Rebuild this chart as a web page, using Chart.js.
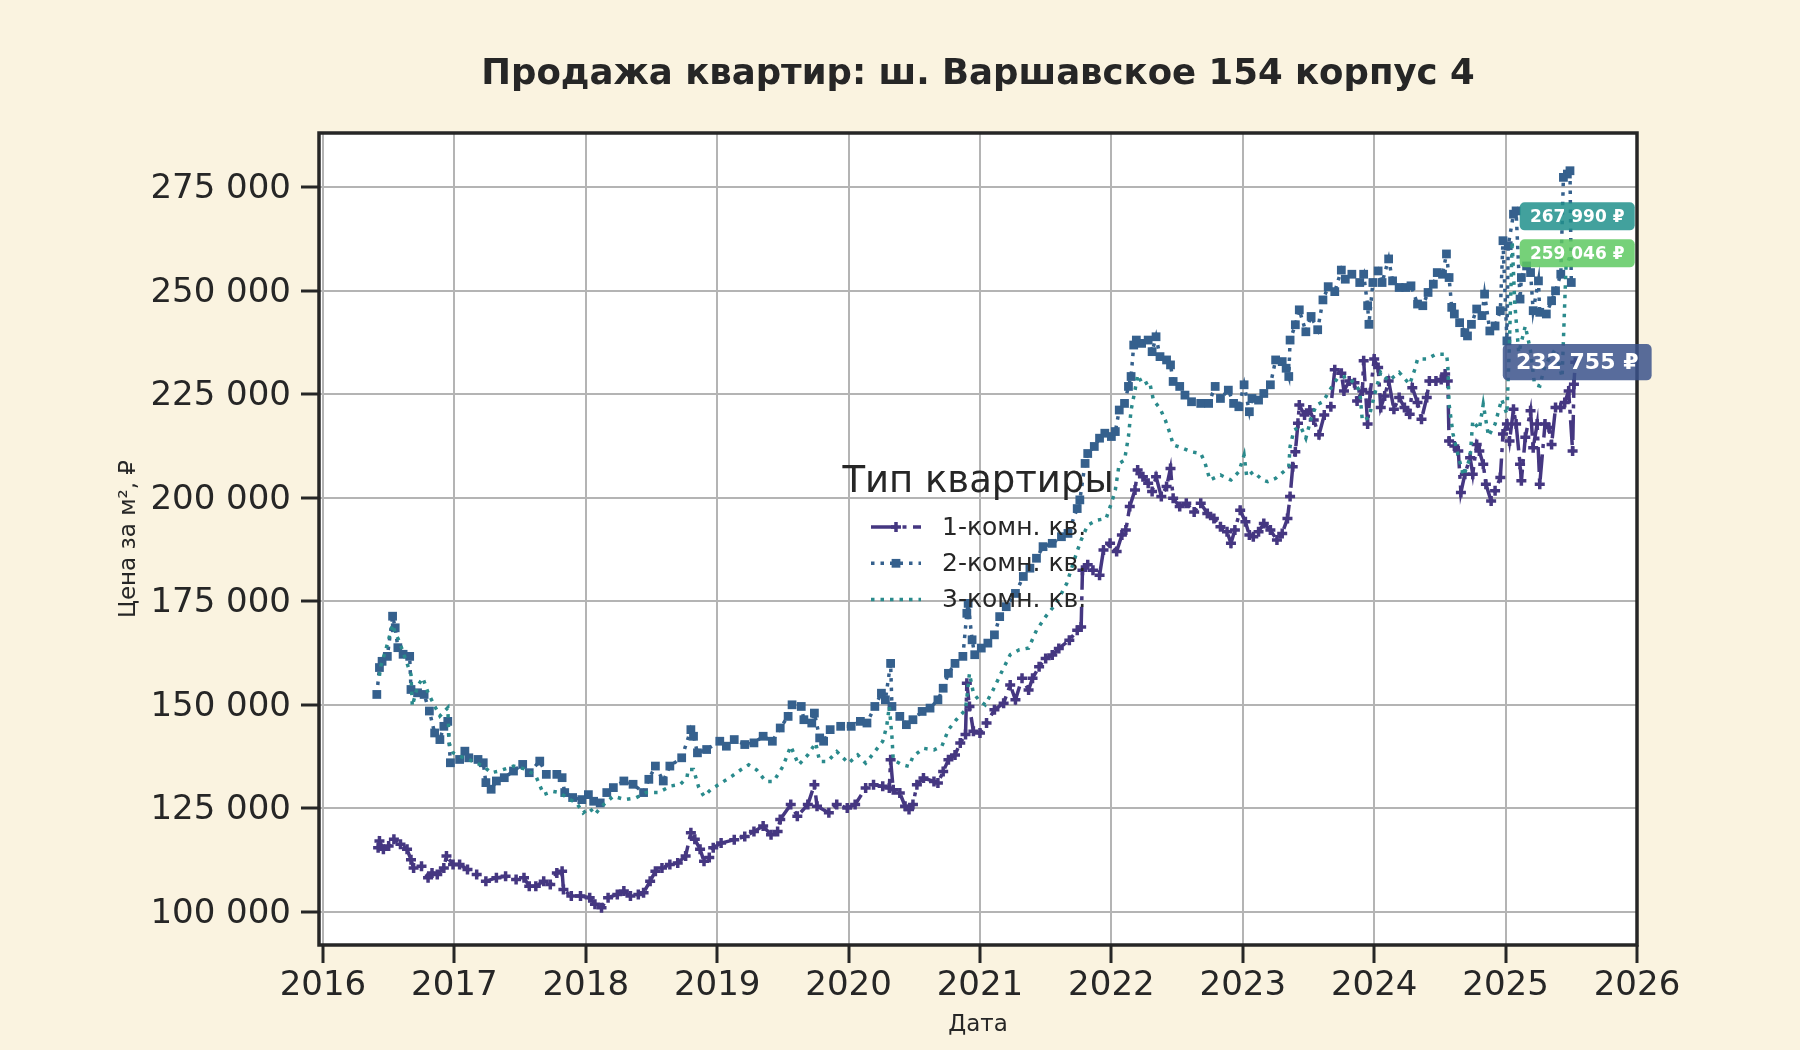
<!DOCTYPE html>
<html lang="ru">
<head>
<meta charset="utf-8">
<title>Продажа квартир: ш. Варшавское 154 корпус 4</title>
<script src="https://cdn.jsdelivr.net/npm/chart.js@4.4.1/dist/chart.umd.min.js"></script>
<style>
    html, body { margin: 0; padding: 0; background: #faf3e0; }
    #wrap { width: 1800px; height: 1050px; }
</style>
</head>
<body>
<div id="wrap"><canvas id="priceChart" width="1800" height="1050"></canvas></div>
<script>
// Data (decimal years, price per m2)
const dates1 = [
    2016.42, 2016.43, 2016.46, 2016.50, 2016.54, 2016.59, 2016.64, 2016.67, 2016.69, 2016.75,
    2016.80, 2016.83, 2016.87, 2016.92, 2016.94, 2016.99, 2017.04, 2017.10, 2017.17, 2017.24,
    2017.32, 2017.39, 2017.47, 2017.53, 2017.57, 2017.62, 2017.68, 2017.73, 2017.78, 2017.82,
    2017.83, 2017.89, 2017.96, 2018.03, 2018.07, 2018.12, 2018.17, 2018.24, 2018.29, 2018.34,
    2018.40, 2018.44, 2018.49, 2018.53, 2018.58, 2018.64, 2018.70, 2018.76, 2018.80, 2018.83,
    2018.87, 2018.90, 2018.94, 2018.97, 2019.03, 2019.13, 2019.21, 2019.28, 2019.35, 2019.41,
    2019.46, 2019.48, 2019.56, 2019.61, 2019.69, 2019.74, 2019.76, 2019.85, 2019.91, 2019.99,
    2020.05, 2020.13, 2020.19, 2020.26, 2020.31, 2020.32, 2020.34, 2020.39, 2020.43, 2020.46,
    2020.49, 2020.52, 2020.57, 2020.65, 2020.68, 2020.72, 2020.76, 2020.81, 2020.85, 2020.89,
    2020.90, 2020.92, 2020.95, 2021.00, 2021.05, 2021.11, 2021.18, 2021.23, 2021.27, 2021.32,
    2021.37, 2021.40, 2021.45, 2021.50, 2021.55, 2021.60, 2021.68, 2021.74, 2021.77, 2021.78,
    2021.82, 2021.86, 2021.91, 2021.94, 2021.99, 2022.04, 2022.08, 2022.11, 2022.14, 2022.18,
    2022.20, 2022.24, 2022.28, 2022.31, 2022.34, 2022.38, 2022.42, 2022.45, 2022.47, 2022.52,
    2022.57, 2022.63, 2022.68, 2022.73, 2022.78, 2022.83, 2022.88, 2022.91, 2022.94, 2022.98,
    2023.02, 2023.05, 2023.08, 2023.12, 2023.16, 2023.21, 2023.26, 2023.30, 2023.34, 2023.36,
    2023.38, 2023.40, 2023.42, 2023.43, 2023.47, 2023.51, 2023.54, 2023.58, 2023.62, 2023.67,
    2023.70, 2023.75, 2023.77, 2023.81, 2023.85, 2023.87, 2023.91, 2023.92, 2023.95, 2023.97,
    2024.00, 2024.03, 2024.05, 2024.08, 2024.11, 2024.15, 2024.19, 2024.23, 2024.27, 2024.29,
    2024.33, 2024.36, 2024.40, 2024.42, 2024.47, 2024.51, 2024.54, 2024.56, 2024.57, 2024.61,
    2024.64, 2024.66, 2024.69, 2024.73, 2024.75, 2024.78, 2024.80, 2024.83, 2024.85, 2024.89,
    2024.92, 2024.96, 2024.98, 2025.01, 2025.03, 2025.06, 2025.08, 2025.11, 2025.12, 2025.15,
    2025.19, 2025.21, 2025.24, 2025.26, 2025.30, 2025.33, 2025.35, 2025.38, 2025.42, 2025.45,
    2025.48, 2025.51, 2025.52, 2025.53
];
const prices1 = [
    115500, 117100, 115100, 115900, 117500, 116300, 115100, 112600, 110600, 111000,
    108200, 109400, 109000, 110600, 113500, 111400, 111400, 110200, 109000, 107400,
    108200, 108600, 107800, 108200, 106200, 106200, 107400, 106600, 109400, 109800,
    105400, 103800, 103800, 103400, 101800, 101000, 103400, 104200, 105000, 103800,
    104200, 104600, 107400, 109800, 110600, 111400, 111800, 113500, 119100, 117500,
    115100, 112200, 113100, 115500, 116600, 117400, 118200, 119400, 120700, 118600,
    119400, 122300, 125900, 123100, 125900, 130700, 125500, 123900, 125900, 125100,
    125900, 129900, 130700, 130300, 129900, 136700, 129500, 128700, 125500, 124700,
    125900, 130700, 132300, 131500, 131100, 133900, 136700, 137900, 140800, 142800,
    155200, 149600, 143600, 143200, 145600, 148800, 150400, 154800, 151200, 156400,
    153600, 156400, 159200, 161200, 162000, 163600, 165600, 168000, 168800, 182500,
    183800, 182500, 181300, 187400, 189000, 187000, 191000, 192200, 197900, 201900,
    206700, 205100, 203500, 201500, 205100, 200300, 202700, 207100, 199900, 197900,
    198700, 196600, 198700, 196200, 195000, 193000, 191800, 189000, 192200, 197000,
    194200, 191000, 190600, 191800, 193800, 192200, 189800, 191400, 195000, 200300,
    207500, 211100, 218000, 222400, 220000, 221200, 218800, 215200, 220000, 222000,
    230900, 230100, 225800, 228200, 227800, 223400, 225800, 233100, 217800, 225400,
    233500, 231500, 221800, 224600, 228200, 221400, 224200, 221800, 220200, 226600,
    223000, 219000, 224200, 228200, 228200, 228600, 229900, 228200, 213700, 212500,
    211300, 201300, 205700, 209700, 205700, 212900, 211300, 208100, 203300, 199200,
    201700, 204900, 215400, 217800, 213700, 221400, 217800, 208100, 204100, 214600,
    221000, 212100, 217800, 203300, 217800, 217000, 212900, 221800, 221800, 223000,
    225800, 211300, 227400, 232755
];

const dates2 = [
    2016.41, 2016.43, 2016.45, 2016.49, 2016.53, 2016.55, 2016.57, 2016.61, 2016.66, 2016.67,
    2016.72, 2016.77, 2016.81, 2016.85, 2016.89, 2016.92, 2016.95, 2016.97, 2017.04, 2017.08,
    2017.11, 2017.18, 2017.22, 2017.24, 2017.28, 2017.32, 2017.38, 2017.45, 2017.52, 2017.57,
    2017.65, 2017.70, 2017.78, 2017.82, 2017.84, 2017.90, 2017.97, 2018.02, 2018.06, 2018.11,
    2018.16, 2018.21, 2018.29, 2018.36, 2018.44, 2018.48, 2018.53, 2018.59, 2018.64, 2018.73,
    2018.80, 2018.82, 2018.85, 2018.92, 2019.02, 2019.07, 2019.13, 2019.21, 2019.28, 2019.35,
    2019.42, 2019.48, 2019.54, 2019.57, 2019.64, 2019.66, 2019.72, 2019.74, 2019.78, 2019.81,
    2019.86, 2019.94, 2020.02, 2020.09, 2020.14, 2020.20, 2020.25, 2020.28, 2020.32, 2020.33,
    2020.39, 2020.44, 2020.49, 2020.56, 2020.62, 2020.68, 2020.72, 2020.76, 2020.81, 2020.87,
    2020.90, 2020.91, 2020.94, 2020.96, 2021.01, 2021.06, 2021.11, 2021.15, 2021.20, 2021.27,
    2021.33, 2021.38, 2021.43, 2021.48, 2021.55, 2021.62, 2021.67, 2021.74, 2021.76, 2021.80,
    2021.82, 2021.87, 2021.91, 2021.95, 2022.00, 2022.03, 2022.06, 2022.10, 2022.13, 2022.15,
    2022.17, 2022.19, 2022.23, 2022.28, 2022.31, 2022.34, 2022.37, 2022.42, 2022.45, 2022.47,
    2022.52, 2022.56, 2022.61, 2022.68, 2022.74, 2022.79, 2022.83, 2022.89, 2022.93, 2022.97,
    2023.01, 2023.05, 2023.07, 2023.12, 2023.16, 2023.21, 2023.25, 2023.30, 2023.33, 2023.35,
    2023.36, 2023.40, 2023.43, 2023.48, 2023.52, 2023.57, 2023.61, 2023.65, 2023.70, 2023.75,
    2023.78, 2023.83, 2023.89, 2023.92, 2023.95, 2023.96, 2023.99, 2024.03, 2024.06, 2024.11,
    2024.14, 2024.19, 2024.24, 2024.28, 2024.33, 2024.37, 2024.41, 2024.45, 2024.48, 2024.52,
    2024.55, 2024.57, 2024.59, 2024.61, 2024.65, 2024.69, 2024.71, 2024.74, 2024.78, 2024.82,
    2024.84, 2024.88, 2024.92, 2024.96, 2024.98, 2025.01, 2025.02, 2025.06, 2025.08, 2025.11,
    2025.12, 2025.16, 2025.19, 2025.21, 2025.25, 2025.26, 2025.31, 2025.35, 2025.38, 2025.42,
    2025.44, 2025.47, 2025.49, 2025.50
];
const prices2 = [
    152500, 159000, 160500, 161700, 171400, 168600, 163800, 162200, 161700, 153700,
    152900, 152500, 148500, 143200, 141600, 144800, 146000, 136000, 136800, 138800,
    137200, 136800, 136000, 131200, 129600, 131600, 132400, 134000, 135600, 133600,
    136400, 133200, 133200, 132400, 128800, 127600, 127100, 128300, 126700, 126300,
    128800, 130000, 131600, 130800, 128800, 132000, 135200, 131600, 135200, 137200,
    144000, 142400, 138400, 139200, 141200, 140000, 141600, 140400, 140800, 142400,
    141200, 144400, 147200, 150000, 149600, 146400, 145600, 148000, 142000, 141200,
    144000, 144800, 144800, 146000, 145600, 149600, 152800, 151200, 160000, 149600,
    147200, 145200, 146400, 148400, 149200, 151200, 154000, 157600, 160000, 161700,
    172100, 174500, 165700, 162100, 163700, 164900, 166900, 171300, 173700, 176900,
    181000, 183000, 185400, 188200, 189000, 190600, 191400, 197400, 199500, 208300,
    210700, 212400, 214400, 215600, 214800, 216000, 221200, 222800, 226900, 229300,
    236900, 238100, 237300, 238100, 235300, 238900, 234100, 233300, 232100, 228100,
    226900, 224800, 223200, 222800, 222800, 226900, 224000, 226000, 222800, 222000,
    227300, 220800, 224000, 223600, 225200, 227300, 233300, 232900, 231300, 229300,
    238100, 241800, 245400, 240100, 243800, 240600, 247800, 251000, 249800, 255000,
    252800, 254000, 252000, 254000, 246400, 241900, 252000, 254800, 252000, 257700,
    252400, 250800, 250800, 251200, 246800, 246400, 249600, 251600, 254400, 254000,
    258900, 253200, 246000, 244400, 242300, 239900, 239100, 241900, 245600, 244000,
    249200, 240300, 241500, 245200, 262100, 237900, 260900, 268500, 269300, 248000,
    253200, 256000, 254400, 245200, 252400, 244800, 244400, 247600, 250000, 254000,
    277400, 278200, 279000, 252000
];

const dates3 = [
    2016.43, 2016.44, 2016.49, 2016.53, 2016.55, 2016.58, 2016.67, 2016.68, 2016.72, 2016.76,
    2016.80, 2016.85, 2016.89, 2016.95, 2016.96, 2016.99, 2017.04, 2017.11, 2017.22, 2017.28,
    2017.34, 2017.45, 2017.55, 2017.62, 2017.68, 2017.75, 2017.80, 2017.88, 2017.93, 2017.98,
    2018.03, 2018.07, 2018.12, 2018.21, 2018.30, 2018.38, 2018.46, 2018.55, 2018.65, 2018.72,
    2018.77, 2018.78, 2018.82, 2018.86, 2018.90, 2018.95, 2019.03, 2019.11, 2019.18, 2019.24,
    2019.30, 2019.37, 2019.43, 2019.50, 2019.56, 2019.62, 2019.69, 2019.75, 2019.78, 2019.84,
    2019.91, 2020.00, 2020.07, 2020.13, 2020.19, 2020.26, 2020.29, 2020.31, 2020.33, 2020.34,
    2020.41, 2020.46, 2020.49, 2020.57, 2020.65, 2020.71, 2020.76, 2020.82, 2020.89, 2020.92,
    2020.95, 2020.99, 2021.04, 2021.10, 2021.16, 2021.23, 2021.30, 2021.37, 2021.43, 2021.50,
    2021.58, 2021.66, 2021.73, 2021.77, 2021.82, 2021.89, 2021.96, 2022.00, 2022.03, 2022.06,
    2022.10, 2022.13, 2022.15, 2022.18, 2022.20, 2022.24, 2022.29, 2022.32, 2022.37, 2022.41,
    2022.45, 2022.47, 2022.54, 2022.61, 2022.68, 2022.71, 2022.75, 2022.83, 2022.91, 2022.97,
    2023.01, 2023.03, 2023.08, 2023.15, 2023.19, 2023.25, 2023.31, 2023.35, 2023.36, 2023.39,
    2023.44, 2023.48, 2023.52, 2023.56, 2023.61, 2023.67, 2023.72, 2023.79, 2023.85, 2023.89,
    2023.91, 2023.96, 2024.01, 2024.05, 2024.11, 2024.19, 2024.27, 2024.31, 2024.33, 2024.40,
    2024.47, 2024.55, 2024.56, 2024.57, 2024.60, 2024.64, 2024.68, 2024.73, 2024.75, 2024.80,
    2024.83, 2024.87, 2024.92, 2024.97, 2025.01, 2025.03, 2025.05, 2025.07, 2025.10, 2025.15,
    2025.19, 2025.22, 2025.26, 2025.30, 2025.38, 2025.43, 2025.46, 2025.50
];
const prices3 = [
    157000, 159300, 164600, 169400, 167400, 165400, 157300, 149700, 154500, 156500,
    152900, 149700, 147300, 149300, 140800, 138400, 137600, 136800, 135200, 133600,
    134000, 135200, 134400, 132800, 128300, 129100, 128800, 127100, 126300, 123900,
    125100, 123500, 125500, 127900, 127100, 127500, 128800, 128800, 130400, 130800,
    132400, 134400, 134400, 130000, 127900, 129500, 131100, 132700, 134300, 135500,
    134300, 131500, 131500, 135100, 140000, 135500, 137900, 140800, 136300, 136300,
    138700, 135900, 137900, 135900, 138300, 141200, 144800, 149600, 142400, 136700,
    135500, 135100, 137500, 139500, 139100, 140000, 144000, 146400, 148800, 157600,
    152800, 151200, 150000, 153600, 157600, 162100, 163300, 163700, 168000, 171300,
    174500, 179300, 186200, 189800, 193400, 194600, 195000, 198700, 201900, 208300,
    209100, 214800, 221200, 226000, 229700, 227300, 228100, 223600, 221600, 218800,
    215200, 212800, 212000, 211100, 210700, 208700, 204300, 205500, 204300, 206300,
    210300, 205100, 206300, 204300, 203900, 204700, 206300, 207500, 212400, 216400,
    217200, 214400, 219200, 222400, 223200, 226400, 228900, 229300, 227700, 225800,
    218600, 219400, 225800, 230300, 228200, 230300, 227400, 231100, 233500, 233500,
    234700, 234700, 232300, 222600, 215400, 210100, 205300, 209700, 218600, 216600,
    222600, 214900, 217800, 223800, 220200, 238000, 262000, 247000, 235000, 241500,
    235500, 227400, 227000, 232000, 236000, 229100, 256000, 259046
];

const seriesNames = ['1-комн. кв.', '2-комн. кв.', '3-комн. кв.'];
const yearTicks = [2016, 2017, 2018, 2019, 2020, 2021, 2022, 2023, 2024, 2025, 2026];
const priceTicks = [100000, 125000, 150000, 175000, 200000, 225000, 250000, 275000];

// End-of-series price badges
const badgeDates = [2025.545, 2025.545, 2025.545];
const badgeValues = [267990, 259046, 232755];
const badgeColors = ['rgba(33, 145, 140, 0.85)', 'rgba(94, 201, 98, 0.85)', 'rgba(59, 82, 139, 0.85)'];
const badgeFontSizes = [17, 17, 22];

const textColor = '#262626';
const fontFamily = '"DejaVu Sans", "Noto Sans", sans-serif';

function formatPrice(value) {
    return String(Math.round(value)).replace(/\B(?=(\d{3})+(?!\d))/g, ' ');
}

function toPoints(dates, prices) {
    return dates.map(function(d, i) { return { x: d, y: prices[i] }; });
}

Chart.defaults.font.family = fontFamily;
Chart.defaults.color = textColor;

// Cream page, white plot area
const backgroundPlugin = {
    id: 'backgroundPlugin',
    beforeDraw(chart) {
        const { ctx, chartArea } = chart;
        ctx.save();
        ctx.fillStyle = '#faf3e0';
        ctx.fillRect(0, 0, chart.width, chart.height);
        ctx.fillStyle = '#ffffff';
        ctx.fillRect(chartArea.left, chartArea.top, chartArea.right - chartArea.left, chartArea.bottom - chartArea.top);
        ctx.restore();
    }
};

// Frame around the axes and the price badges
const framePlugin = {
    id: 'framePlugin',
    afterDatasetsDraw(chart) {
        const { ctx, chartArea } = chart;
        const xScale = chart.scales.x;
        const yScale = chart.scales.y;
        ctx.save();
        ctx.lineWidth = 3.5;
        ctx.strokeStyle = textColor;
        ctx.strokeRect(chartArea.left, chartArea.top, chartArea.right - chartArea.left, chartArea.bottom - chartArea.top);

        badgeValues.forEach(function(value, i) {
            const cx = xScale.getPixelForValue(badgeDates[i]);
            const cy = yScale.getPixelForValue(value);
            const size = badgeFontSizes[i];
            const text = formatPrice(value) + ' ₽';
            ctx.font = 'bold ' + size + 'px ' + fontFamily;
            const w = ctx.measureText(text).width + size * 1.2;
            const h = size * 1.65;
            ctx.fillStyle = badgeColors[i];
            ctx.beginPath();
            ctx.roundRect(cx - w / 2, cy - h / 2, w, h, 5);
            ctx.fill();
            ctx.fillStyle = '#ffffff';
            ctx.textAlign = 'center';
            ctx.textBaseline = 'middle';
            ctx.fillText(text, cx, cy + 1);
        });
        ctx.restore();
    }
};

// Legend without frame, centred in the plot
const legendPlugin = {
    id: 'legendPlugin',
    afterDraw(chart) {
        const { ctx, chartArea } = chart;
        const cx = (chartArea.left + chartArea.right) / 2;
        const cy = (chartArea.top + chartArea.bottom) / 2;
        ctx.save();
        ctx.fillStyle = textColor;
        ctx.textBaseline = 'middle';
        ctx.textAlign = 'center';
        ctx.font = '37px ' + fontFamily;
        ctx.fillText('Тип квартиры', cx, cy - 57);

        chart.data.datasets.forEach(function(ds, i) {
            const rowY = cy - 12 + i * 36.3;
            const x0 = cx - 107;
            const x1 = cx - 57;
            ctx.strokeStyle = ds.borderColor;
            ctx.lineWidth = ds.borderWidth;
            ctx.setLineDash(ds.borderDash || []);
            ctx.beginPath();
            ctx.moveTo(x0, rowY);
            ctx.lineTo(x1, rowY);
            ctx.stroke();
            ctx.setLineDash([]);
            if (ds.pointRadius > 0) {
                ctx.fillStyle = ds.borderColor;
                ctx.strokeStyle = ds.borderColor;
                ctx.lineWidth = ds.pointBorderWidth;
                Chart.helpers.drawPoint(ctx, {
                    pointStyle: ds.pointStyle,
                    radius: ds.pointRadius,
                    borderWidth: ds.pointBorderWidth,
                    rotation: 0
                }, (x0 + x1) / 2, rowY);
            }
            ctx.fillStyle = textColor;
            ctx.textAlign = 'left';
            ctx.font = '25px ' + fontFamily;
            ctx.fillText(seriesNames[i], cx - 36, rowY + 1);
        });
        ctx.restore();
    }
};

const ctx = document.getElementById('priceChart').getContext('2d');
const priceChart = new Chart(ctx, {
    type: 'line',
    data: {
        datasets: [
            {
                label: seriesNames[0],
                data: toPoints(dates1, prices1),
                borderColor: '#453781',
                backgroundColor: '#453781',
                borderWidth: 3.5,
                borderDash: [25, 6.5, 4, 6.5],
                pointStyle: 'cross',
                pointRadius: 5,
                pointBorderWidth: 3.5,
                pointBorderColor: '#453781',
                order: 2
            },
            {
                label: seriesNames[1],
                data: toPoints(dates2, prices2),
                borderColor: '#35608d',
                backgroundColor: '#35608d',
                borderWidth: 3.5,
                borderDash: [3.5, 6],
                pointStyle: 'rect',
                pointRadius: 6.2,
                pointBorderWidth: 0,
                pointBackgroundColor: '#35608d',
                order: 1
            },
            {
                label: seriesNames[2],
                data: toPoints(dates3, prices3),
                borderColor: '#2a8a8c',
                backgroundColor: '#2a8a8c',
                borderWidth: 3.5,
                borderDash: [3.5, 6],
                pointRadius: 0,
                order: 0
            }
        ]
    },
    options: {
        responsive: false,
        animation: false,
        devicePixelRatio: 1,
        layout: {
            padding: { left: 0, right: 163, top: 0, bottom: 0 }
        },
        elements: {
            line: { tension: 0, fill: false }
        },
        plugins: {
            legend: { display: false },
            tooltip: { enabled: false },
            title: {
                display: true,
                fullSize: false,
                text: 'Продажа квартир: ш. Варшавское 154 корпус 4',
                color: textColor,
                font: { size: 35.5, weight: 'bold' },
                padding: { top: 53.3, bottom: 37.1 }
            }
        },
        scales: {
            x: {
                type: 'linear',
                min: 2015.97,
                max: 2026.0,
                afterBuildTicks: function(scale) {
                    scale.ticks = yearTicks.map(function(v) { return { value: v }; });
                },
                afterFit: function(scale) {
                    scale.height = 105;
                },
                ticks: {
                    autoSkip: false,
                    maxRotation: 0,
                    padding: 3,
                    color: textColor,
                    font: { size: 34 },
                    callback: function(value) {
                        return String(value);
                    }
                },
                grid: {
                    color: '#b4b4b4',
                    lineWidth: 2,
                    tickColor: textColor,
                    tickWidth: 3,
                    tickLength: 18
                },
                border: { display: false },
                title: {
                    display: true,
                    text: 'Дата',
                    color: textColor,
                    font: { size: 23 },
                    padding: { top: 0, bottom: 10.7 }
                }
            },
            y: {
                type: 'linear',
                min: 91981,
                max: 288116,
                afterBuildTicks: function(scale) {
                    scale.ticks = priceTicks.map(function(v) { return { value: v }; });
                },
                afterFit: function(scale) {
                    scale.width = 319;
                },
                ticks: {
                    padding: 10,
                    labelOffset: 2,
                    color: textColor,
                    font: { size: 34 },
                    callback: function(value) {
                        return formatPrice(value);
                    }
                },
                grid: {
                    color: '#b4b4b4',
                    lineWidth: 2,
                    tickColor: textColor,
                    tickWidth: 3,
                    tickLength: 18
                },
                border: { display: false },
                title: {
                    display: true,
                    text: 'Цена за м², ₽',
                    color: textColor,
                    font: { size: 23 },
                    padding: { top: 115, bottom: 0 }
                }
            }
        }
    },
    plugins: [backgroundPlugin, framePlugin, legendPlugin]
});
</script>
</body>
</html>
